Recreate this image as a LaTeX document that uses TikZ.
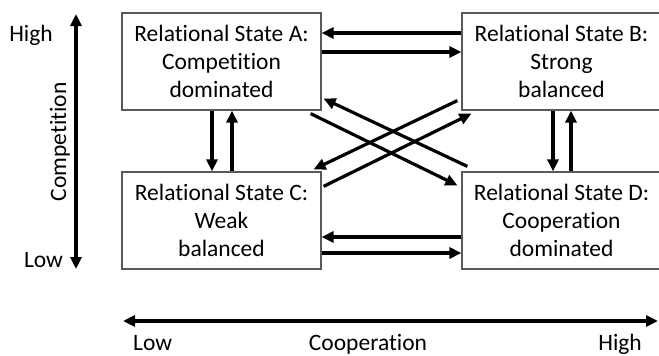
\documentclass[tikz,border=0pt]{standalone}
\usepackage{fontspec}
\setmainfont[Ligatures=NoCommon]{Carlito}
\usetikzlibrary{arrows.meta}
\begin{document}
\begin{tikzpicture}[x=1pt, y=-1pt, inner sep=0pt,
		state/.style={draw=black!65, line width=1.2pt, minimum width=199pt, minimum height=97pt, align=center, font=\fontsize{23.5}{28}\selectfont},
		flow/.style={line width=3.2pt, -{Triangle[length=12pt, width=11pt]}},
		axis/.style={line width=3.4pt, {Triangle[length=12pt, width=11pt]}-{Triangle[length=12pt, width=11pt]}},
		lbl/.style={font=\fontsize{23.5}{28}\selectfont}]
		\useasboundingbox (0, 0) rectangle (659, 356);
		\clip (0, 0) rectangle (659, 356);
		\node[state] (compdom) at (221.5, 61.5) {Relational State A:\\Competition\\dominated};
		\node[state] (strong) at (561.5, 61.5) {Relational State B:\\Strong\\balanced};
		\node[state] (weak) at (221.5, 220.5) {Relational State C:\\Weak\\balanced};
		\node[state] (coopdom) at (561.5, 220.5) {Relational State D:\\Cooperation\\dominated};
		% A <-> B and C <-> D
		\draw[flow] ([yshift=28.5pt]strong.west) -- ([yshift=28.5pt]compdom.east);
		\draw[flow] ([yshift=9.5pt]compdom.east) -- ([yshift=9.5pt]strong.west);
		\draw[flow] ([yshift=-16.5pt]coopdom.west) -- ([yshift=-16.5pt]weak.east);
		\draw[flow] ([yshift=-32.5pt]weak.east) -- ([yshift=-32.5pt]coopdom.west);
		% A <-> C and B <-> D
		\draw[flow] ([xshift=-9.5pt]compdom.south) -- ([xshift=-9.5pt]weak.north);
		\draw[flow] ([xshift=10.5pt]weak.north) -- ([xshift=10.5pt]compdom.south);
		\draw[flow] ([xshift=-8.5pt]strong.south) -- ([xshift=-8.5pt]coopdom.north);
		\draw[flow] ([xshift=9.5pt]coopdom.north) -- ([xshift=9.5pt]strong.south);
		% diagonals
		\draw[flow] ([xshift=-11pt, yshift=-3pt]compdom.south east) -- ([xshift=-4pt, yshift=-14pt]coopdom.north west);
		\draw[flow] ([xshift=6pt, yshift=5pt]coopdom.north west) -- ([xshift=2pt, yshift=12pt]compdom.south east);
		\draw[flow] ([xshift=-4pt, yshift=10pt]strong.south west) -- ([xshift=-8pt, yshift=2pt]weak.north east);
		\draw[flow] ([xshift=2pt, yshift=-15pt]weak.north east) -- ([xshift=10pt, yshift=-3pt]strong.south west);
		% axes
		\coordinate (comptop) at (76, 14);
		\coordinate (compbot) at (76, 269);
		\draw[axis] (comptop) -- (compbot);
		\node[lbl, anchor=base] (comphigh) at (31, 41) {High};
		\node[lbl, anchor=base] (complow) at (43.5, 267) {Low};
		\node[lbl, anchor=base, rotate=90] (complbl) at (66, 142) {Competition};
		\coordinate (coopleft) at (123, 321);
		\coordinate (coopright) at (658, 321);
		\draw[axis] (coopleft) -- (coopright);
		\node[lbl, anchor=base west] (cooplow) at (133, 350) {Low};
		\node[lbl, anchor=base] (cooplbl) at (368, 350) {Cooperation};
		\node[lbl, anchor=base east] (coophigh) at (642, 350) {High};
	\end{tikzpicture}
\end{document}
